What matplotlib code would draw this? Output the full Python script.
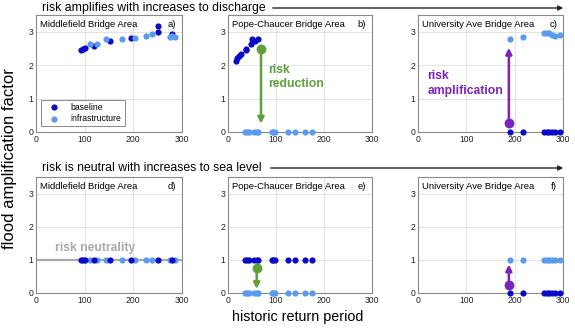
import matplotlib
matplotlib.use("Agg")
import matplotlib.pyplot as plt

plt.rcParams['font.family'] = ['Liberation Sans', 'DejaVu Sans']

# ---- data ----
# Middlefield Bridge Area
mid_base_x = [92, 97, 101, 119, 152, 194.5, 251, 251, 279]
mid_base_y = [2.44, 2.48, 2.51, 2.58, 2.71, 2.81, 3.16, 2.98, 2.93]
mid_infra_x = [111, 125, 144, 176, 203, 226, 238, 275, 280, 286]
mid_infra_y = [2.63, 2.63, 2.78, 2.78, 2.81, 2.88, 2.92, 2.84, 2.86, 2.84]

# Pope-Chaucer Bridge Area
pope_base_x = [16, 19.4, 23.5, 27, 37.5, 38, 47, 50.7, 56, 63]
pope_base_y = [2.12, 2.2, 2.27, 2.33, 2.45, 2.49, 2.63, 2.77, 2.73, 2.79]
pope_infra_x = [35.4, 40.3, 43.8, 54.8, 59.8, 63.2, 91, 94.4, 97.9, 125.6, 139.6, 160.4, 175.6]
pope_infra_y = [0] * 13
pope_sl_x = pope_infra_x

# University Ave Bridge Area
univ_base_x = [190, 217, 261, 266, 272, 277, 283, 294.6]
univ_base_y = [0] * 8
univ_infra_x = [190, 217, 261, 266, 272, 277, 283, 294.6]
univ_infra_y = [2.78, 2.85, 2.97, 2.96, 2.95, 2.91, 2.88, 2.91]

mid_sl_base_x = [92, 97, 101, 119, 152, 194.5, 251, 279]
mid_sl_infra_x = [111, 125, 144, 176, 203, 226, 238, 275, 286]

titles = ["Middlefield Bridge Area", "Pope-Chaucer Bridge Area", "University Ave Bridge Area"]
letters = ["a)", "b)", "c)", "d)", "e)", "f)"]
header_top = "risk amplifies with increases to discharge"
header_bot = "risk is neutral with increases to sea level"

c_base = '#0a0ac8'
c_infra = '#5b9bef'
c_green = '#5fa03a'
c_purple = '#7a24b8'
c_gray = '#aaaaaa'

W, H = 575, 329
fig = plt.figure(figsize=(W / 100, H / 100), dpi=100)

lefts = [36, 228, 418]
widths = [146, 144, 145]
rows = [(15, 132), (177, 293)]

axes = []
for r, (top, bot) in enumerate(rows):
    for c in range(3):
        ax = fig.add_axes([lefts[c] / W, 1 - bot / H, widths[c] / W, (bot - top) / H])
        ax.set_xlim(0, 300)
        ax.set_ylim(0, 3.5)
        ax.set_xticks([0, 100, 200, 300])
        ax.set_yticks([0, 1, 2, 3])
        ax.tick_params(labelsize=6.2, length=0, pad=2, colors='#222222')
        ax.grid(True, color='#e3e3e3', lw=0.7)
        ax.set_axisbelow(True)
        for s in ax.spines.values():
            s.set_color('#8a8a8a')
            s.set_linewidth(0.8)
        ax.text(0.03, 0.955, titles[c], transform=ax.transAxes, fontsize=6.8,
                va='top', ha='left')
        ax.text(0.96, 0.955, letters[r * 3 + c], transform=ax.transAxes, fontsize=6.8,
                va='top', ha='right')
        axes.append(ax)

ms = 20
kw = dict(s=ms, zorder=3, linewidths=0, clip_on=False)

# a)
ax = axes[0]
ax.scatter(mid_base_x, mid_base_y, color=c_base, label='baseline', **kw)
ax.scatter(mid_infra_x, mid_infra_y, color=c_infra, label='infrastructure', **kw)
leg = ax.legend(loc='lower left', fontsize=6.2, frameon=True, fancybox=False,
                edgecolor='#555555', borderpad=0.35, handletextpad=0.9, handlelength=2.2,
                labelspacing=0.3, bbox_to_anchor=(0.035, 0.05), borderaxespad=0)
leg.get_frame().set_linewidth(0.6)

# b)
ax = axes[1]
ax.scatter(pope_base_x, pope_base_y, color=c_base, **kw)
ax.scatter(pope_infra_x, pope_infra_y, color=c_infra, **kw)
ax.annotate('', xy=(68.8, 0.25), xytext=(68.8, 2.47),
            arrowprops=dict(arrowstyle='-|>', color=c_green, lw=1.8, mutation_scale=9,
                            shrinkA=0, shrinkB=0))
ax.scatter([68.8], [2.47], s=50, color=c_green, zorder=4, linewidths=0)
ax.text(84, 1.65, 'risk\nreduction', color=c_green, fontsize=8.7, fontweight='bold',
        va='center', ha='left', linespacing=1.25)

# c)
ax = axes[2]
ax.scatter(univ_base_x, univ_base_y, color=c_base, **kw)
ax.scatter(univ_infra_x, univ_infra_y, color=c_infra, **kw)
ax.annotate('', xy=(188, 2.52), xytext=(188, 0.28),
            arrowprops=dict(arrowstyle='-|>', color=c_purple, lw=1.8, mutation_scale=9,
                            shrinkA=0, shrinkB=0))
ax.scatter([188], [0.28], s=50, color=c_purple, zorder=4, linewidths=0)
ax.text(19, 1.45, 'risk\namplification', color=c_purple, fontsize=8.7, fontweight='bold',
        va='center', ha='left', linespacing=1.25)

# d)
ax = axes[3]
ax.axhline(1, color=c_gray, lw=1.6, zorder=2)
ax.scatter(mid_sl_infra_x, [1] * len(mid_sl_infra_x), color=c_infra, **kw)
ax.scatter(mid_sl_base_x, [1] * len(mid_sl_base_x), color=c_base, **kw)
ax.text(39, 1.36, 'risk neutrality', color=c_gray, fontsize=8.7, fontweight='bold',
        va='center', ha='left')

# e)
ax = axes[4]
ax.scatter(pope_sl_x, [1] * len(pope_sl_x), color=c_base, **kw)
ax.scatter(pope_infra_x, pope_infra_y, color=c_infra, **kw)
ax.annotate('', xy=(59.8, 0.12), xytext=(59.8, 0.76),
            arrowprops=dict(arrowstyle='-|>', color=c_green, lw=1.8, mutation_scale=9,
                            shrinkA=0, shrinkB=0))
ax.scatter([59.8], [0.76], s=50, color=c_green, zorder=4, linewidths=0)

# f)
ax = axes[5]
ax.scatter(univ_base_x, univ_base_y, color=c_base, **kw)
ax.scatter(univ_infra_x, [1] * len(univ_infra_x), color=c_infra, **kw)
ax.annotate('', xy=(188, 0.86), xytext=(188, 0.23),
            arrowprops=dict(arrowstyle='-|>', color=c_purple, lw=1.8, mutation_scale=9,
                            shrinkA=0, shrinkB=0))
ax.scatter([188], [0.23], s=50, color=c_purple, zorder=4, linewidths=0)

# headers
fig.text(42 / W, 1 - 8 / H, header_top, fontsize=8.8, va='center', ha='left')
fig.text(42 / W, 1 - 168 / H, header_bot, fontsize=8.8, va='center', ha='left')
for ypix, x0 in [(8, 270), (168, 268)]:
    fig.add_artist(matplotlib.patches.FancyArrowPatch(
        (x0 / W, 1 - ypix / H), (566 / W, 1 - ypix / H), transform=fig.transFigure,
        arrowstyle='-|>', mutation_scale=7, color='#222222', lw=1.0))

fig.text(10 / W, 1 - 159 / H, 'flood amplification factor', rotation=90, fontsize=12,
         va='center', ha='center')
fig.text(298 / W, 1 - 317 / H, 'historic return period', fontsize=10.3,
         va='center', ha='center')

fig.savefig('out.png', dpi=100)
